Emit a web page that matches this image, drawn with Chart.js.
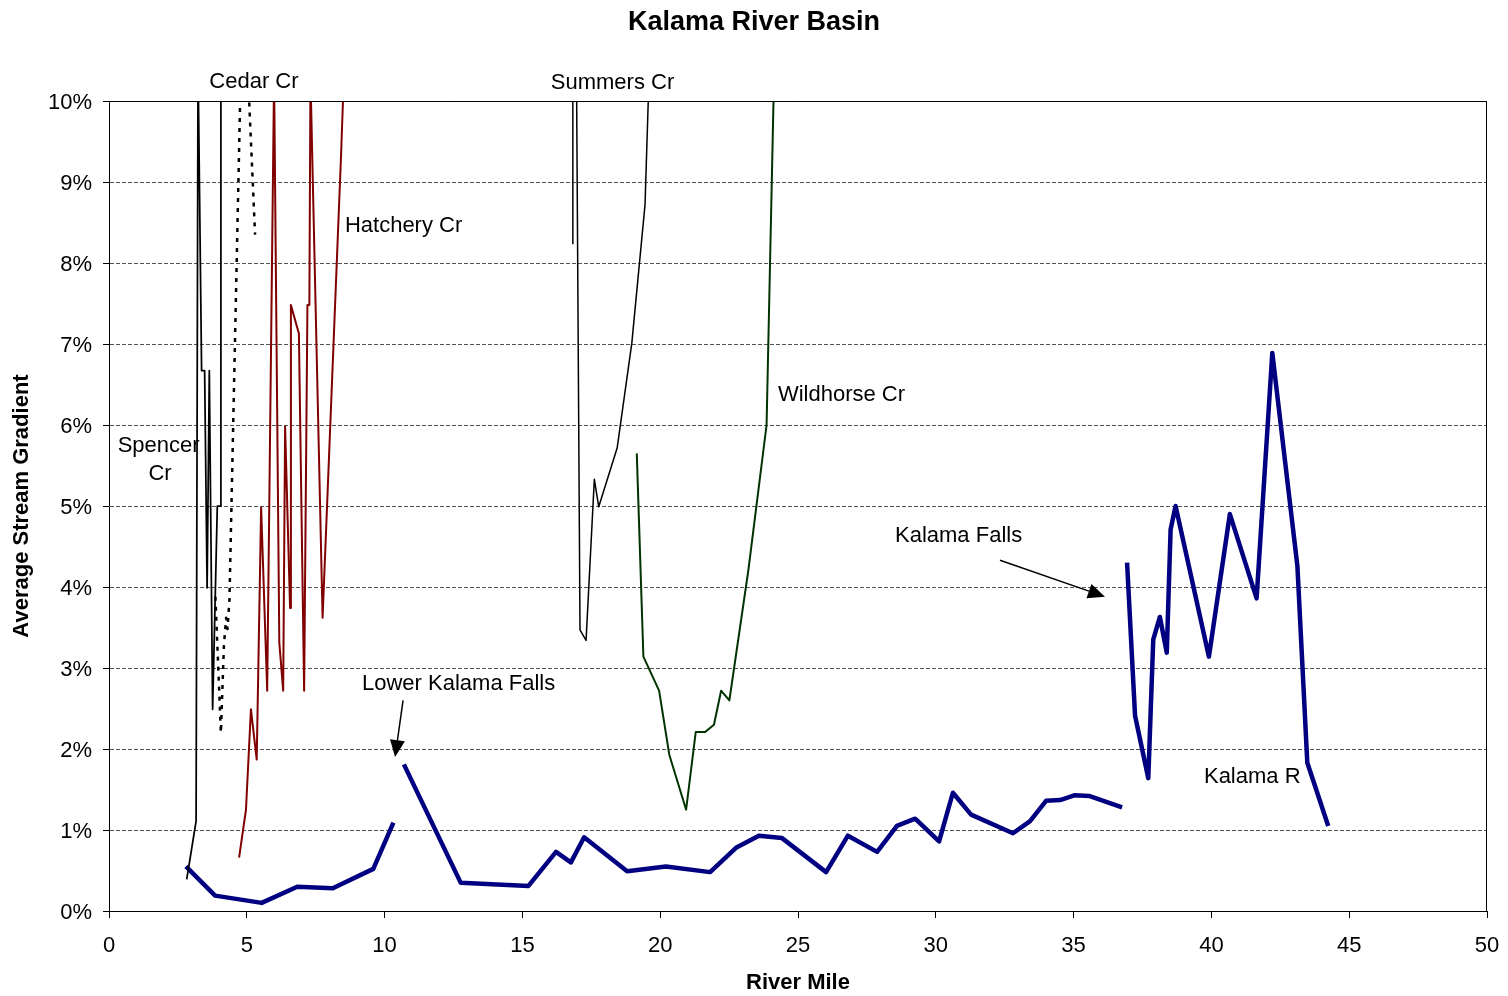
<!DOCTYPE html>
<html>
<head>
<meta charset="utf-8">
<script src="https://cdn.jsdelivr.net/npm/chart.js@4.4.1/dist/chart.umd.min.js"></script>
<style>
  html, body { margin: 0; padding: 0; background: #ffffff; }
  #wrap { width: 1508px; height: 996px; }
</style>
</head>
<body>
<div id="wrap"><canvas id="c" width="1508" height="996"></canvas></div>
<script>
// ---------- DATA (river mile, average gradient in %) ----------
const kalamaMiles = [2.79, 3.85, 5.54, 6.83, 8.12, 9.59, 10.32, null,
  10.70, 12.76, 15.22, 16.22, 16.76, 17.24, 18.80, 20.21, 21.81, 22.75, 23.58, 24.42,
  26.02, 26.81, 27.87, 28.59, 29.25, 30.12, 30.62, 31.28, 32.80, 33.42, 34.00, 34.51,
  35.05, 35.56, 36.76, null,
  36.94, 37.23, 37.71, 37.89, 38.13, 38.38, 38.52, 38.70, 39.91, 40.67, 41.64, 42.21,
  43.12, 43.48, 44.24];
const kalamaGrad = [0.55, 0.19, 0.10, 0.30, 0.28, 0.52, 1.09, null,
  1.81, 0.35, 0.31, 0.73, 0.60, 0.91, 0.49, 0.55, 0.48, 0.78, 0.93, 0.90,
  0.48, 0.93, 0.73, 1.05, 1.14, 0.86, 1.46, 1.19, 0.96, 1.11, 1.36, 1.37,
  1.43, 1.42, 1.28, null,
  4.30, 2.41, 1.64, 3.35, 3.63, 3.19, 4.71, 5.00, 3.14, 4.90, 3.86, 6.89,
  4.26, 1.83, 1.05];

const spencerMiles = [2.82, 3.16, 3.23, 3.36, 3.47, 3.56, 3.64, 3.76, 3.93, 4.05, 4.06];
const spencerGrad  = [0.39, 1.11, 10.5, 6.67, 6.67, 3.99, 6.67, 2.49, 5.00, 5.00, 10.5];

const cedarMiles = [3.86, 4.06, 4.17, 4.25, 4.30, 4.37, 4.79, 5.02, 5.30];
const cedarGrad  = [3.88, 2.20, 3.28, 3.62, 3.48, 3.84, 10.5, 10.5, 8.35];

const hatcheryMiles = [4.72, 4.97, 5.15, 5.36, 5.52, 5.74, 5.99, 6.18, 6.32, 6.39, 6.57,
  6.60, 6.89, 7.08, 7.20, 7.27, 7.31, 7.75, 8.42, 8.52];
const hatcheryGrad  = [0.66, 1.25, 2.49, 1.87, 4.98, 2.72, 10.3, 3.31, 2.72, 5.98, 3.74,
  7.48, 7.13, 2.72, 7.48, 7.48, 10.3, 3.62, 9.33, 10.3];

const summersMiles = [16.83, 16.83, 16.96, 17.09, 17.31, 17.61, 17.77, 18.44, 18.97, 19.45, 19.59];
const summersGrad  = [8.23, 10.5, 10.5, 3.47, 3.34, 5.33, 4.99, 5.72, 7.01, 8.72, 10.26];

const wildhorseMiles = [19.15, 19.39, 19.96, 20.33, 20.94, 21.29, 21.63, 21.95, 22.21, 22.51,
  23.20, 23.86, 24.13];
const wildhorseGrad  = [5.65, 3.14, 2.72, 1.93, 1.25, 2.21, 2.21, 2.30, 2.72, 2.60,
  4.21, 6.00, 10.3];

const xTicks = [0, 5, 10, 15, 20, 25, 30, 35, 40, 45, 50];
const yTicks = [0, 1, 2, 3, 4, 5, 6, 7, 8, 9, 10];

const labelTexts = ['Cedar Cr', 'Summers Cr', 'Hatchery Cr', 'Wildhorse Cr', 'Spencer', 'Cr',
  'Kalama Falls', 'Lower Kalama Falls', 'Kalama R'];
const labelMiles = [5.26, 18.27, 8.56, 24.27, 1.80, 1.85, 28.52, 9.18, 39.73];
const labelGrad  = [10.26, 10.25, 8.48, 6.40, 5.77, 5.42, 4.65, 2.83, 1.68];
const labelAlign = ['center', 'center', 'left', 'left', 'center', 'center', 'left', 'left', 'left'];

const arrowFromMiles = [10.67, 32.33];
const arrowFromGrad  = [2.60, 4.33];
const arrowToMiles   = [10.38, 36.14];
const arrowToGrad    = [1.90, 3.88];

// ---------- build datasets ----------
const FONT = "'Liberation Sans', Arial, Helvetica, sans-serif";

function segments(xs, ys) {
  const out = []; let cur = [];
  for (let i = 0; i < xs.length; i++) {
    if (xs[i] === null || ys[i] === null) { if (cur.length) out.push(cur); cur = []; }
    else cur.push({x: xs[i], y: ys[i]});
  }
  if (cur.length) out.push(cur);
  return out;
}
function lineSet(label, pts, color, width, dash) {
  return {
    label: label, data: pts, showLine: true, borderColor: color, backgroundColor: color,
    borderWidth: width, borderDash: dash || [], pointRadius: 0, pointHoverRadius: 0,
    tension: 0, fill: false, borderJoinStyle: 'round', borderCapStyle: 'butt'
  };
}
const datasets = [];
segments(spencerMiles, spencerGrad).forEach(s => datasets.push(lineSet('Spencer Cr', s, '#000000', 1.75)));
segments(cedarMiles, cedarGrad).forEach(s => datasets.push(lineSet('Cedar Cr', s, '#000000', 2.5, [4, 6])));
segments(hatcheryMiles, hatcheryGrad).forEach(s => datasets.push(lineSet('Hatchery Cr', s, '#800000', 2)));
segments(summersMiles, summersGrad).forEach(s => datasets.push(lineSet('Summers Cr', s, '#000000', 1.5)));
segments(wildhorseMiles, wildhorseGrad).forEach(s => datasets.push(lineSet('Wildhorse Cr', s, '#003300', 2)));
segments(kalamaMiles, kalamaGrad).forEach(s => datasets.push(lineSet('Kalama R', s, '#000080', 4.5)));

// ---------- annotation plugin ----------
const annot = {
  id: 'annot',
  afterDatasetsDraw(chart) {
    const ctx = chart.ctx, xs = chart.scales.x, ys = chart.scales.y, a = chart.chartArea;
    ctx.save();
    // plot frame (top and right)
    ctx.strokeStyle = '#000'; ctx.lineWidth = 1;
    ctx.beginPath();
    ctx.moveTo(a.left, a.top + 0.5); ctx.lineTo(a.right - 0.5, a.top + 0.5); ctx.lineTo(a.right - 0.5, a.bottom);
    ctx.stroke();
    // labels
    ctx.fillStyle = '#000';
    ctx.font = '22px ' + FONT;
    ctx.textBaseline = 'middle';
    for (let i = 0; i < labelTexts.length; i++) {
      ctx.textAlign = labelAlign[i];
      ctx.fillText(labelTexts[i], xs.getPixelForValue(labelMiles[i]), ys.getPixelForValue(labelGrad[i]) + 2);
    }
    // arrows
    for (let i = 0; i < arrowFromMiles.length; i++) {
      const x1 = xs.getPixelForValue(arrowFromMiles[i]), y1 = ys.getPixelForValue(arrowFromGrad[i]);
      const x2 = xs.getPixelForValue(arrowToMiles[i]), y2 = ys.getPixelForValue(arrowToGrad[i]);
      const ang = Math.atan2(y2 - y1, x2 - x1);
      const hl = 17, hw = 7.5;
      const bx = x2 - hl * Math.cos(ang), by = y2 - hl * Math.sin(ang);
      ctx.strokeStyle = '#000'; ctx.lineWidth = 1.5;
      ctx.beginPath(); ctx.moveTo(x1, y1); ctx.lineTo(bx, by); ctx.stroke();
      ctx.beginPath();
      ctx.moveTo(x2, y2);
      ctx.lineTo(bx + hw * Math.sin(ang), by - hw * Math.cos(ang));
      ctx.lineTo(bx - hw * Math.sin(ang), by + hw * Math.cos(ang));
      ctx.closePath(); ctx.fill();
    }
    ctx.restore();
  }
};

new Chart(document.getElementById('c'), {
  type: 'scatter',
  data: { datasets: datasets },
  plugins: [annot],
  options: {
    responsive: false,
    devicePixelRatio: 1,
    animation: false,
    events: [],
    layout: { padding: 0 },
    plugins: {
      legend: { display: false },
      tooltip: { enabled: false },
      title: {
        display: true, text: 'Kalama River Basin', color: '#000',
        font: { family: FONT, size: 27, weight: 'bold', lineHeight: 1.2 },
        padding: { top: 6, bottom: 62.6 }
      }
    },
    scales: {
      x: {
        type: 'linear', min: 0, max: 50,
        afterFit(s) { s.height = 85; s.paddingLeft = 0; s.paddingRight = 0; },
        afterBuildTicks(s) { s.ticks = xTicks.map(v => ({ value: v })); },
        ticks: { color: '#000', font: { family: FONT, size: 22 }, padding: 15, maxRotation: 0 },
        grid: { drawOnChartArea: false, drawTicks: true, tickLength: 7, color: '#000', tickColor: '#000' },
        border: { color: '#000', width: 1 },
        title: { display: true, text: 'River Mile', color: '#000',
          font: { family: FONT, size: 22, weight: 'bold', lineHeight: 1.2 }, padding: { top: 4, bottom: 0 } }
      },
      y: {
        type: 'linear', min: 0, max: 10,
        afterFit(s) { s.width = 109; s.paddingTop = 0; s.paddingBottom = 0; },
        afterBuildTicks(s) { s.ticks = yTicks.map(v => ({ value: v })); },
        ticks: { color: '#000', font: { family: FONT, size: 22 }, padding: 11, labelOffset: 2, callback: v => v + '%' },
        grid: { drawOnChartArea: true, drawTicks: true, tickLength: 6, color: '#555', tickColor: '#000', lineWidth: 1 },
        border: { color: '#000', width: 1, dash: [4, 2] },
        title: { display: true, text: 'Average Stream Gradient', color: '#000',
          font: { family: FONT, size: 22, weight: 'bold', lineHeight: 1.2 }, padding: { top: 9, bottom: 0 } }
      },
      spacer: {
        type: 'linear', position: 'right', display: true, min: 0, max: 1,
        afterFit(s) { s.width = 21; },
        ticks: { display: false },
        grid: { display: false, drawOnChartArea: false, drawTicks: false },
        border: { display: false }
      }
    }
  }
});
</script>
</body>
</html>
